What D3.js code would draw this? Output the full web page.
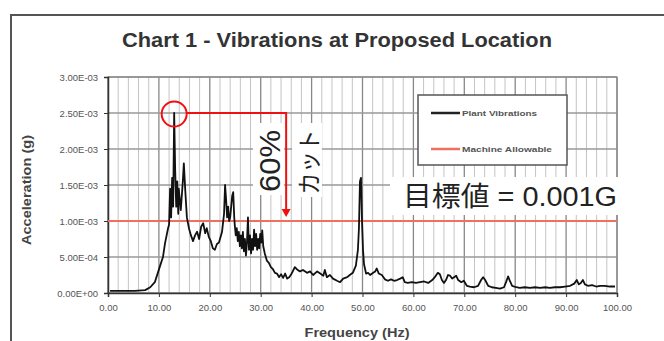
<!DOCTYPE html>
<html><head><meta charset="utf-8">
<script src="https://cdn.jsdelivr.net/npm/d3@7"></script>
<style>html,body{margin:0;padding:0;background:#fff;}svg{display:block;}</style>
</head><body>
<svg id="c" width="664" height="341"></svg>
<script>
const title = "Chart 1 - Vibrations at Proposed Location";
const xLabel = "Frequency (Hz)";
const yLabel = "Acceleration (g)";
const seriesNames = ["Plant Vibrations", "Machine Allowable"];
const allowable = 1.0e-3;
const xTickValues = [0,10,20,30,40,50,60,70,80,90,100];
const xTickLabels = ["0.00","10.00","20.00","30.00","40.00","50.00","60.00","70.00","80.00","90.00","100.00"];
const yTickValues = [0,0.5e-3,1.0e-3,1.5e-3,2.0e-3,2.5e-3,3.0e-3];
const yTickLabels = ["0.00E+00","5.00E-04","1.00E-03","1.50E-03","2.00E-03","2.50E-03","3.00E-03"];
const freq = [0.4,2.4,5.3,7.3,8.3,9.2,10.2,10.8,11.2,11.8,
12.0,12.2,12.4,12.6,12.8,13.0,13.2,13.4,13.6,13.8,
13.9,14.3,14.7,14.9,15.2,15.5,15.9,16.3,16.7,17.1,
17.5,17.9,18.3,18.7,19.1,19.4,19.8,20.2,20.6,21.0,
21.4,21.8,22.2,22.4,22.8,23.0,23.2,23.4,23.6,23.8,
24.0,24.2,24.4,24.6,24.8,24.9,25.1,25.3,25.5,25.7,
25.9,26.1,26.3,26.5,26.7,26.9,27.1,27.3,27.5,27.7,
27.9,28.1,28.3,28.5,28.7,28.9,29.1,29.3,29.5,29.7,
29.9,30.1,30.3,30.5,30.8,31.2,31.6,32.0,32.4,32.8,
33.2,33.6,34.0,34.4,34.8,35.2,35.6,36.0,36.3,36.7,
37.1,37.7,38.3,39.1,39.7,40.3,41.1,41.7,42.3,42.6,
43.0,43.6,44.2,45.0,45.6,46.2,47.0,47.5,48.1,48.7,
49.1,49.3,49.5,49.7,49.9,50.1,50.3,50.7,51.1,51.5,
52.1,52.5,52.8,53.2,53.8,54.4,55.0,55.6,56.2,56.8,
57.4,57.9,58.3,58.9,59.7,60.5,61.3,62.1,62.9,63.7,
64.2,64.8,65.2,65.6,66.0,66.4,66.8,67.2,67.6,68.0,
68.4,68.8,69.4,69.9,70.5,71.1,71.9,72.7,73.3,73.7,
74.1,74.7,75.4,76.2,77.0,77.8,78.2,78.6,79.0,79.4,
80.2,80.9,81.9,82.9,83.9,84.9,85.9,86.8,87.8,88.8,
89.8,90.8,91.6,92.1,92.5,92.9,93.3,93.7,94.3,95.1,
95.9,96.7,97.6,98.6,99.6];
const accel = [0.03e-3,0.03e-3,0.03e-3,0.04e-3,0.08e-3,0.15e-3,0.37e-3,0.50e-3,0.69e-3,0.90e-3,
0.95e-3,1.45e-3,1.05e-3,1.60e-3,1.20e-3,2.50e-3,1.70e-3,1.20e-3,1.55e-3,1.10e-3,
1.45e-3,1.15e-3,1.55e-3,1.80e-3,1.40e-3,1.05e-3,0.90e-3,0.80e-3,0.72e-3,0.80e-3,
0.85e-3,0.75e-3,0.92e-3,0.97e-3,0.83e-3,0.90e-3,0.78e-3,0.72e-3,0.62e-3,0.60e-3,
0.68e-3,0.70e-3,0.80e-3,0.85e-3,1.10e-3,1.50e-3,1.30e-3,1.05e-3,1.20e-3,1.00e-3,
1.05e-3,1.20e-3,1.35e-3,1.40e-3,1.05e-3,0.95e-3,0.80e-3,0.90e-3,0.72e-3,0.85e-3,
0.65e-3,0.80e-3,0.62e-3,0.85e-3,0.58e-3,0.75e-3,0.52e-3,0.70e-3,1.05e-3,0.60e-3,
0.80e-3,0.55e-3,0.75e-3,0.60e-3,0.88e-3,0.65e-3,0.82e-3,0.60e-3,0.75e-3,0.62e-3,
0.82e-3,0.70e-3,0.87e-3,0.65e-3,0.55e-3,0.45e-3,0.42e-3,0.36e-3,0.33e-3,0.28e-3,
0.27e-3,0.22e-3,0.26e-3,0.21e-3,0.27e-3,0.20e-3,0.22e-3,0.26e-3,0.30e-3,0.36e-3,
0.33e-3,0.30e-3,0.32e-3,0.28e-3,0.30e-3,0.25e-3,0.30e-3,0.27e-3,0.24e-3,0.32e-3,
0.22e-3,0.25e-3,0.20e-3,0.17e-3,0.15e-3,0.20e-3,0.22e-3,0.25e-3,0.28e-3,0.38e-3,
0.60e-3,0.90e-3,1.55e-3,1.60e-3,1.00e-3,0.60e-3,0.40e-3,0.27e-3,0.28e-3,0.25e-3,
0.28e-3,0.30e-3,0.34e-3,0.27e-3,0.25e-3,0.19e-3,0.17e-3,0.19e-3,0.17e-3,0.18e-3,
0.20e-3,0.22e-3,0.15e-3,0.14e-3,0.15e-3,0.14e-3,0.15e-3,0.16e-3,0.14e-3,0.18e-3,
0.22e-3,0.28e-3,0.26e-3,0.18e-3,0.14e-3,0.18e-3,0.25e-3,0.24e-3,0.20e-3,0.22e-3,
0.24e-3,0.18e-3,0.15e-3,0.17e-3,0.10e-3,0.09e-3,0.08e-3,0.10e-3,0.18e-3,0.22e-3,
0.18e-3,0.10e-3,0.08e-3,0.07e-3,0.06e-3,0.08e-3,0.15e-3,0.23e-3,0.16e-3,0.10e-3,
0.08e-3,0.07e-3,0.08e-3,0.07e-3,0.08e-3,0.07e-3,0.08e-3,0.07e-3,0.08e-3,0.08e-3,
0.09e-3,0.10e-3,0.13e-3,0.18e-3,0.12e-3,0.14e-3,0.18e-3,0.12e-3,0.10e-3,0.11e-3,
0.09e-3,0.10e-3,0.10e-3,0.09e-3,0.09e-3];
// annotation
const peakFreq = 13.0, peakValue = 2.5e-3, arrowFreq = 35.0;
const cutText = "60%", cutWord = "カット", targetText = "目標値 = 0.001G";

const svg = d3.select("#c");
const L = 108, R = 617, T = 77, B = 293;
const x = d3.scaleLinear().domain([0,100]).range([L,R]);
const y = d3.scaleLinear().domain([0,3e-3]).range([B,T]);
const latin = "'Liberation Sans', Arial, 'Noto Sans CJK JP', sans-serif";

// outer frame
svg.append("rect").attr("x",11).attr("y",15).attr("width",700).attr("height",400)
  .attr("fill","none").attr("stroke","#555").attr("stroke-width",2);

// title
svg.append("text").attr("x",337).attr("y",47).attr("text-anchor","middle")
  .attr("font-family",latin).attr("font-weight","bold").attr("font-size",20)
  .attr("fill","#333").attr("textLength",430).attr("lengthAdjust","spacingAndGlyphs").text(title);

// grid
const g = svg.append("g");
g.selectAll(".vmin").data(d3.range(0,101,2)).enter().append("line")
  .attr("x1",d=>x(d)).attr("x2",d=>x(d)).attr("y1",T).attr("y2",B)
  .attr("stroke",d=>d%10===0?"#888":"#c4c4c4").attr("stroke-width",d=>d%10===0?1.3:1);
g.selectAll(".hgrid").data(yTickValues).enter().append("line")
  .attr("x1",L).attr("x2",R).attr("y1",d=>y(d)).attr("y2",d=>y(d))
  .attr("stroke","#999").attr("stroke-width",1.5);
svg.append("rect").attr("x",L).attr("y",T).attr("width",R-L).attr("height",B-T)
  .attr("fill","none").attr("stroke","#888").attr("stroke-width",1.2);

// axes
const xAxis = d3.axisBottom(x).tickValues(xTickValues).tickSize(4)
  .tickFormat((d,i)=>xTickLabels[i]);
const xa = svg.append("g").attr("transform",`translate(0,${B})`).call(xAxis);
xa.select(".domain").attr("stroke","#333").attr("stroke-width",1.5);
xa.selectAll(".tick line").attr("stroke","#333");
xa.selectAll("text").attr("font-family",latin).attr("font-size",9.5).attr("fill","#555").attr("dy","1.2em");

const yAxis = d3.axisLeft(y).tickValues(yTickValues).tickSize(4)
  .tickFormat((d,i)=>yTickLabels[i]);
const ya = svg.append("g").attr("transform",`translate(${L},0)`).call(yAxis);
ya.select(".domain").attr("stroke","#333").attr("stroke-width",1.5);
ya.selectAll(".tick line").attr("stroke","#333");
ya.selectAll("text").attr("font-family",latin).attr("font-size",9.5).attr("fill","#555").attr("dx","-0.3em");

// axis labels
svg.append("text").attr("transform","translate(31,190) rotate(-90)").attr("text-anchor","middle")
  .attr("font-family",latin).attr("font-weight","bold").attr("font-size",12).attr("fill","#444")
  .attr("textLength",110).attr("lengthAdjust","spacingAndGlyphs").text(yLabel);
svg.append("text").attr("x",357).attr("y",337).attr("text-anchor","middle")
  .attr("font-family",latin).attr("font-weight","bold").attr("font-size",12).attr("fill","#444")
  .attr("textLength",105).attr("lengthAdjust","spacingAndGlyphs").text(xLabel);

// allowable line
svg.append("line").attr("x1",L).attr("x2",R).attr("y1",y(allowable)).attr("y2",y(allowable))
  .attr("stroke","#f07060").attr("stroke-width",2);

// series
const pts = freq.map((f,i)=>[f,accel[i]]);
svg.append("path").datum(pts)
  .attr("d",d3.line().x(d=>x(d[0])).y(d=>y(d[1])))
  .attr("fill","none").attr("stroke","#111").attr("stroke-width",1.8).attr("stroke-linejoin","round");

// legend
const lg = svg.append("g");
lg.append("rect").attr("x",418).attr("y",95).attr("width",149).attr("height",70)
  .attr("fill","#fff").attr("stroke","#555").attr("stroke-width",1.5);
const legColors = ["#222","#f07060"];
seriesNames.forEach((s,i)=>{
  const yy = 113 + i*36;
  lg.append("line").attr("x1",431).attr("x2",460).attr("y1",yy).attr("y2",yy)
    .attr("stroke",legColors[i]).attr("stroke-width",2.5);
  lg.append("text").attr("x",462).attr("y",yy).attr("dy","0.35em")
    .attr("font-family",latin).attr("font-weight","bold").attr("font-size",8).attr("fill","#555")
    .attr("textLength",i===0?75:90).attr("lengthAdjust","spacingAndGlyphs").text(s);
});

// annotations
const red = "#f01010";
svg.append("rect").attr("x",253).attr("y",123).attr("width",31).attr("height",72).attr("fill","#fff");
svg.append("rect").attr("x",292).attr("y",123).attr("width",30).attr("height",74).attr("fill","#fff");
svg.append("rect").attr("x",390).attr("y",177).attr("width",228).attr("height",38).attr("fill","#fff");

const cx = x(peakFreq), cy = y(peakValue);
svg.append("circle").attr("cx",cx).attr("cy",cy+1).attr("r",12.5)
  .attr("fill","none").attr("stroke",red).attr("stroke-width",2);
const ax = x(arrowFreq);
svg.append("path").attr("d",`M${cx+12.5},${cy}H${ax}V${y(allowable)-10}`)
  .attr("fill","none").attr("stroke",red).attr("stroke-width",2);
svg.append("path").attr("d",`M${ax-4.5},${y(allowable)-12}L${ax+4.5},${y(allowable)-12}L${ax},${y(allowable)-4}Z`)
  .attr("fill",red);

svg.append("text").attr("transform","translate(280,161) rotate(-90)").attr("text-anchor","middle")
  .attr("font-family",latin).attr("font-size",30).attr("fill","#222")
  .attr("textLength",62).attr("lengthAdjust","spacingAndGlyphs").text(cutText);
svg.append("text").attr("transform","translate(318,162) rotate(-90)").attr("text-anchor","middle")
  .attr("font-family","'Noto Sans CJK JP', sans-serif").attr("font-size",24).attr("fill","#222")
  .attr("textLength",65).attr("lengthAdjust","spacingAndGlyphs").text(cutWord);
svg.append("text").attr("x",403).attr("y",206)
  .attr("font-family",latin).attr("font-size",27).attr("fill","#222")
  .attr("textLength",214).attr("lengthAdjust","spacingAndGlyphs").text(targetText);
</script>
</body></html>
